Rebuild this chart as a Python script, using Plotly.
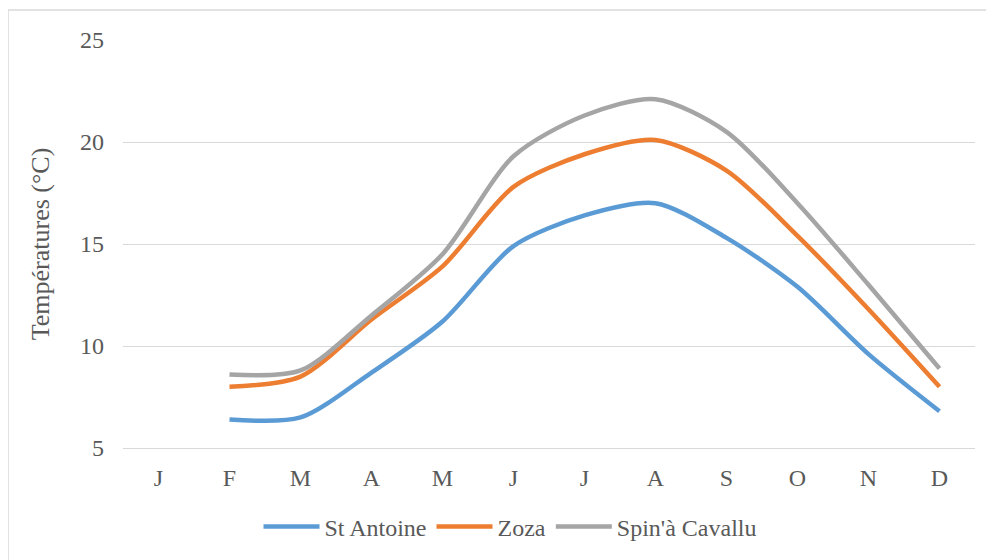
import plotly.graph_objects as go

months = ["J", "F", "M", "A", "M", "J", "J", "A", "S", "O", "N", "D"]
st_antoine = [None, 6.4, 6.5, 8.7, 11.2, 14.9, 16.4, 17.0, 15.3, 12.9, 9.6, 6.8]
zoza = [None, 8.0, 8.5, 11.3, 13.9, 17.8, 19.4, 20.1, 18.6, 15.4, 11.8, 8.0]
spin = [None, 8.6, 8.8, 11.5, 14.5, 19.3, 21.3, 22.1, 20.5, 17.0, 13.0, 8.9]
series_names = ["St Antoine", "Zoza", "Spin'à Cavallu"]
colors = ["#5B9BD5", "#ED7D31", "#A5A5A5"]

x = list(range(len(months)))
font_family = "Liberation Serif"
text_color = "#595959"
FS = 24

# page body has an 8px offset; plot area in page coords: x 123..975, y 40..448
OFF = 8
L, R, T, B = 123 - OFF, 975 - OFF, 40 - OFF, 448 - OFF
W, H = 994, 560
PW, PH = R - L, B - T

fig = go.Figure()
for name, vals, col in zip(series_names, [st_antoine, zoza, spin], colors):
    fig.add_trace(go.Scatter(
        x=x, y=vals, name=name, mode="lines",
        line=dict(color=col, width=4.5, shape="spline", smoothing=0.8),
        connectgaps=False,
    ))

def px(xx):
    return (xx - OFF - L) / PW

def py(yy):
    return (B - (yy - OFF)) / PH

fig.update_layout(
    width=W, height=H,
    margin=dict(l=L, r=W - R, t=T, b=H - B),
    paper_bgcolor="white", plot_bgcolor="white",
    font=dict(family=font_family, size=FS, color=text_color),
    showlegend=True,
    legend=dict(orientation="h", xref="container", yref="container",
                x=(510 - OFF) / W, xanchor="center",
                y=1 - (527 - OFF) / H, yanchor="middle",
                font=dict(family=font_family, size=FS, color=text_color),
                itemwidth=56, traceorder="normal"),
    xaxis=dict(
        range=[-0.5, 11.5], tickmode="array", tickvals=x, ticktext=months,
        showgrid=False, zeroline=False, showline=True, linecolor="#D9D9D9",
        linewidth=1, ticks="", ticklabelstandoff=8,
        tickfont=dict(family=font_family, size=FS, color=text_color),
    ),
    yaxis=dict(
        range=[5, 25], tickvals=[5, 10, 15, 20, 25], showgrid=True,
        gridcolor="#D9D9D9", gridwidth=1, zeroline=False, showline=False,
        ticks="", ticklabelstandoff=18,
        tickfont=dict(family=font_family, size=FS, color=text_color),
        title=dict(text="Températures (°C)", standoff=22,
                   font=dict(family=font_family, size=26, color=text_color)),
    ),
    shapes=[
        dict(type="line", xref="paper", yref="paper",
             x0=px(8), x1=px(1010), y0=py(10), y1=py(10),
             line=dict(color="#D9D9D9", width=1.5)),
        dict(type="line", xref="paper", yref="paper",
             x0=px(8), x1=px(8), y0=py(10), y1=py(580),
             line=dict(color="#D9D9D9", width=1.5)),
    ],
)

fig.write_html("out.html")
